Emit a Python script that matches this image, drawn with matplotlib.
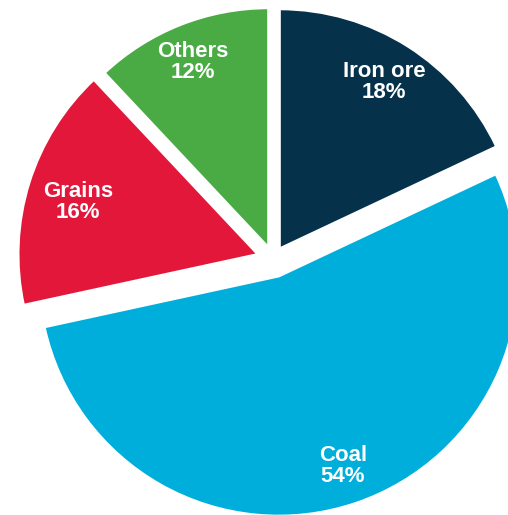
import matplotlib
matplotlib.use("Agg")
import matplotlib.pyplot as plt

categories = ["Iron ore", "Coal", "Grains", "Others"]
values = [18.0, 53.6, 16.4, 12.0]
colors = ["#06314b", "#00aedb", "#e2173a", "#4aab45"]
explode = [0.05, 0.075, 0.065, 0.05]

W, H = 508, 515
cx, cy, R = 273, 259, 240

fig = plt.figure(figsize=(W / 100, H / 100), dpi=100)
ax = fig.add_axes([0, 0, 1, 1])
ax.pie(values, colors=colors, startangle=90, counterclock=False,
       explode=explode, radius=1.0,
       wedgeprops=dict(edgecolor="white", linewidth=2))
ax.set_xlim((0 - cx) / R, (W - cx) / R)
ax.set_ylim((cy - H) / R, cy / R)
ax.set_aspect("auto")
ax.axis("off")

def px(x, y):
    return (x - cx) / R, (cy - y) / R

label_pos = {"Iron ore": (384, 82), "Coal": (343, 466), "Grains": (78, 202), "Others": (193, 62)}
for cat, v in zip(categories, values):
    x, y = px(*label_pos[cat])
    ax.text(x, y, f"{cat}\n{v:.0f}%", ha="center", va="center", color="white",
            fontsize=16, fontweight="bold", family="Liberation Sans", linespacing=1.0)

fig.savefig("out.png", dpi=100)
